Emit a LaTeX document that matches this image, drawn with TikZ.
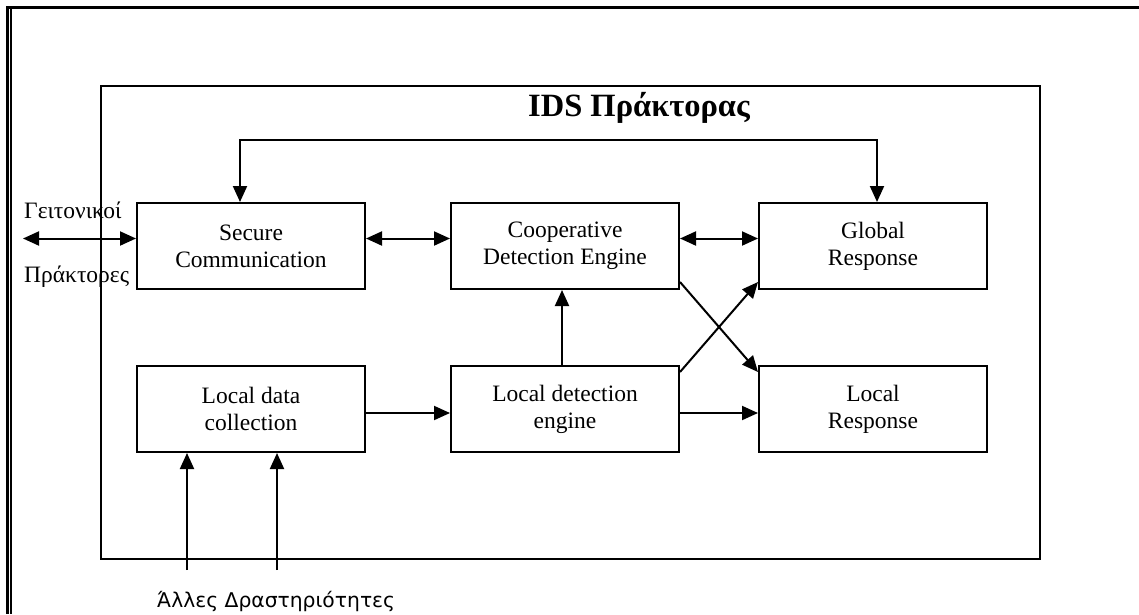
\documentclass[tikz,border=0pt]{standalone}
\usepackage{fontspec}
\setmainfont{Liberation Serif}
\newfontfamily\sansgr{DejaVu Sans}
\usetikzlibrary{arrows.meta}
\begin{document}
\begin{tikzpicture}[x=1pt,y=-1pt,
  block/.style={draw,line width=2pt,minimum width=228pt,minimum height=86pt,
    inner sep=0pt,align=center,font=\fontsize{23.5}{27}\selectfont},
  conn/.style={line width=2pt,-{Triangle[length=16pt,width=14pt]}},
  dconn/.style={line width=2pt,{Triangle[length=16pt,width=14pt]}-{Triangle[length=16pt,width=14pt]}},
  lbl/.style={inner sep=0pt,font=\fontsize{23.5}{27}\selectfont}]
\useasboundingbox (0,0) rectangle (1139,614);
% page frame: thick top rule, double rule on the left
\draw[line width=3.2pt] (6,7.6) -- (1139,7.6);
\draw[line width=3pt] (7.5,6) -- (7.5,614);
\draw[line width=1.4pt] (10.8,9.2) -- (10.8,614);
% agent boundary
\draw[line width=2pt] (101,86) rectangle (1040,559);
\node[anchor=base,inner sep=0pt,font=\fontsize{32.5}{36}\selectfont\bfseries] (title) at (639,116) {IDS Πράκτορας};
% blocks
\node[block] (sc) at (251,246) {Secure\\Communication};
\node[block] (cd) at (565,246) {Cooperative\\Detection Engine};
\node[block] (gr) at (873,246) {Global\\Response};
\node[block] (ld) at (251,409) {Local data\\collection};
\node[block] (le) at (565,409) {Local detection\\engine};
\node[block] (lr) at (873,409) {Local\\Response};
% outside labels
\node[lbl,anchor=base west] (nb1) at (24,218) {Γειτονικοί};
\node[lbl,anchor=base west] (nb2) at (24,282) {Πράκτορες};
\node[anchor=base west,inner sep=0pt,font=\sansgr\fontsize{20.3}{24}\selectfont] (other) at (157,607) {Άλλες Δραστηριότητες};
% coordinates for free ends and bends
\coordinate (nbend) at (23,238.5);
\coordinate (tl) at (240,140);
\coordinate (tr) at (877,140);
\coordinate (yr) at (0,238.5);
\coordinate (yl) at (0,413);
\coordinate (in1) at (187,570);
\coordinate (in2) at (277,570);
\coordinate (xv) at (562,0);
\coordinate (xa) at (0,282);
\coordinate (xb) at (0,372);
% connectors
\draw[dconn] (nbend) -- (sc.west |- nbend);
\draw[dconn] (sc.east |- yr) -- (cd.west |- yr);
\draw[dconn] (cd.east |- yr) -- (gr.west |- yr);
\draw[dconn] (tl |- sc.north) -- (tl) -- (tr) -- (tr |- gr.north);
\draw[conn] (ld.east |- yl) -- (le.west |- yl);
\draw[conn] (le.east |- yl) -- (lr.west |- yl);
\draw[conn] (le.north -| xv) -- (cd.south -| xv);
\draw[conn] (cd.east |- xa) -- (lr.west |- xb);
\draw[conn] (le.east |- xb) -- (gr.west |- xa);
\draw[conn] (in1) -- (ld.south -| in1);
\draw[conn] (in2) -- (ld.south -| in2);
\end{tikzpicture}
\end{document}
